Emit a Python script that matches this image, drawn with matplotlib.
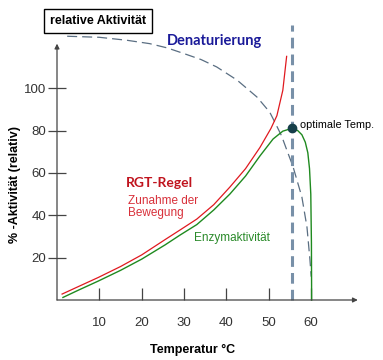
import matplotlib.pyplot as plt

# curve data (temperature in °C, activity in %)
rgt_t = [1.2, 5, 9.7, 15, 20, 25.5, 29, 33, 37, 40.8, 44.5, 47.9, 50.5, 51.9,
         53.3, 54.2]
rgt_a = [2.8, 6.3, 10.6, 15.8, 21.3, 28.5, 33, 38.2, 45, 53.3, 62, 72, 81, 87,
         99, 115]

enz_t = [1.4, 5, 9.7, 15, 20, 25.5, 29, 33, 37, 40.8, 44.5, 47.9, 51, 53.3,
         55.4, 56.8, 57.8, 58.6, 59.2, 59.6, 59.9, 60.05, 60.1]
enz_a = [1.2, 4.6, 8.9, 14, 19.3, 26, 30.6, 35.6, 42.5, 50, 58.5, 68, 76, 79.7,
         81, 80, 78, 74.5, 69.5, 62, 50, 27, 0]

den_t = [2.4, 10, 16.5, 21.9, 26, 29.7, 34, 37.7, 42.5, 47.2, 50.2, 51.4, 53,
         54.2, 55.7, 57.8, 59, 59.7, 60]
den_a = [124.5, 124, 122.6, 121, 119, 116.5, 113.5, 110, 103.8, 95.8, 88.7, 84,
         77.5, 71, 63, 48.6, 34.4, 19, 11]

t_opt = 55.4
a_opt = 81

xticks = [10, 20, 30, 40, 50, 60]
yticks = [20, 40, 60, 80, 100]

W, H = 383, 360
fig = plt.figure(figsize=(W / 100, H / 100), dpi=100)
ax = fig.add_axes([57 / W, 60 / H, 322 / W, 286 / H])
ax.set_xlim(0, 76)
ax.set_ylim(0, 135)
for s in ax.spines.values():
    s.set_visible(False)

# axes with arrows
axcol = '#444444'
ax.annotate('', xy=(71, 0), xytext=(0, 0),
            arrowprops=dict(arrowstyle='-|>', color=axcol, lw=0.9,
                            mutation_scale=7, shrinkA=0, shrinkB=0))
ax.annotate('', xy=(0, 121), xytext=(0, 0),
            arrowprops=dict(arrowstyle='-|>', color=axcol, lw=0.9,
                            mutation_scale=7, shrinkA=0, shrinkB=0))

ax.set_xticks(xticks)
ax.set_yticks(yticks)
ax.tick_params(axis='x', direction='in', length=8.5, width=0.9, color=axcol,
               pad=12, labelsize=9.5, labelcolor='#333333')
ax.tick_params(axis='y', direction='inout', length=13.5, width=0.9, color=axcol,
               pad=1, labelsize=9.5, labelcolor='#333333')
for lab in ax.get_xticklabels() + ax.get_yticklabels():
    lab.set_fontfamily('Liberation Sans')

ax.plot(den_t, den_a, color='#5a6e82', lw=0.9, dashes=(8, 4), clip_on=False)
ax.plot(rgt_t, rgt_a, color='#e0191f', lw=0.9, clip_on=False)
ax.plot(enz_t, enz_a, color='#1f8a1f', lw=1.0, clip_on=False)
ax.plot([t_opt, t_opt], [0, 130], color='#7890a8', lw=2.2, dashes=(3.5, 2),
        clip_on=False)
ax.plot([t_opt], [a_opt], 'o', color='#163f4a', ms=6, clip_on=False, zorder=5)

def px(x, y):
    return x / W, 1 - y / H

fig.text(*px(98, 21), 'relative Aktivität', ha='center', va='center',
         family='Liberation Sans', weight='bold', fontsize=9,
         bbox=dict(boxstyle='square,pad=0.45', fc='white', ec='black', lw=1.0))
fig.text(*px(167, 41), 'Denaturierung', ha='left', va='center', family='Lato',
         weight='bold', fontsize=10.5, color='#1a1a99')
fig.text(*px(300, 125), 'optimale Temp.', ha='left', va='center',
         family='Liberation Sans', fontsize=7.8, color='black')
fig.text(*px(159, 183), 'RGT-Regel', ha='center', va='center', family='Lato',
         weight='bold', fontsize=10, color='#c0141e')
fig.text(*px(128, 207), 'Zunahme der\nBewegung', ha='left', va='center',
         family='Liberation Sans', fontsize=8.5, color='#d8303a', linespacing=1.0)
fig.text(*px(232, 238), 'Enzymaktivität', ha='center', va='center',
         family='Liberation Sans', fontsize=8.5, color='#2a8a2a')
fig.text(*px(15, 185), '% -Aktivität (relativ)', ha='center', va='center',
         rotation=90, family='Liberation Sans', weight='bold', fontsize=9)
fig.text(*px(193, 350), 'Temperatur °C', ha='center', va='center',
         family='Liberation Sans', weight='bold', fontsize=9)

fig.savefig('out.png', dpi=100)
